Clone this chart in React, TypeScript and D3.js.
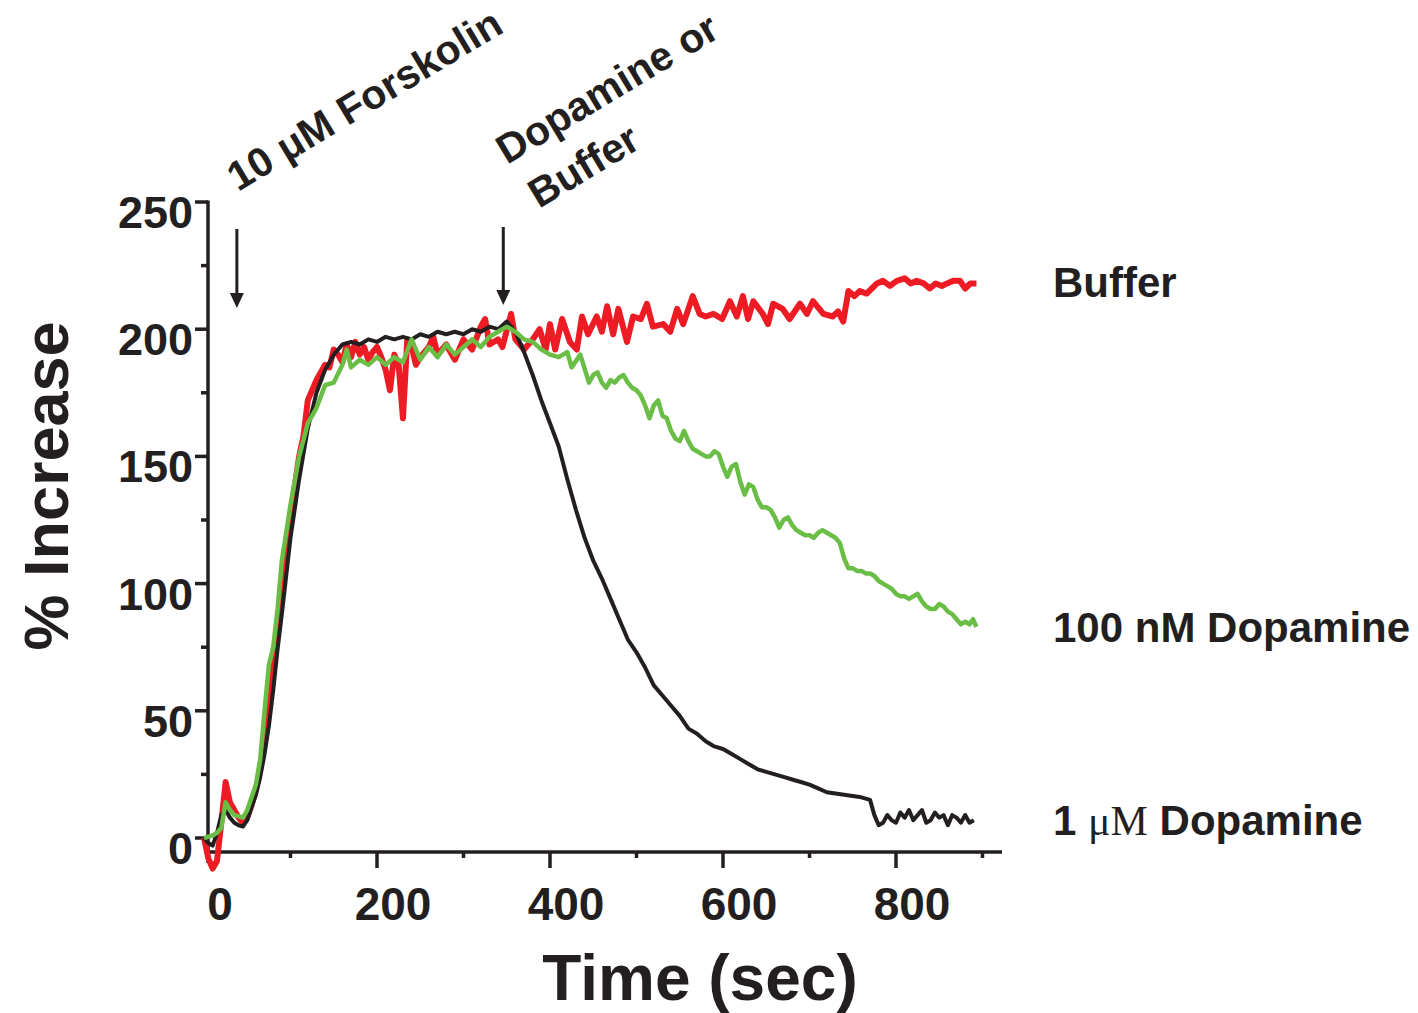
import React from "react";
import * as d3 from "d3";

// ---- Data: [time (sec), % increase] ----
const buffer: [number, number][] = [
  [0, 0], [5, -8], [10, -12], [15, -9], [20, 6], [25, 22], [30, 14], [35, 11], [40, 8], [45, 6],
  [50, 8], [55, 13], [60, 19], [65, 27], [70, 38], [75, 52], [80, 68], [85, 82], [90, 97], [95, 112],
  [100, 127], [110, 150], [115, 158], [120, 172], [125, 176], [130, 180], [135, 183], [140, 186], [145, 185], [150, 192],
  [155, 190], [160, 187], [165, 194], [170, 189], [175, 195], [180, 190], [185, 193], [190, 188], [195, 191], [200, 193],
  [205, 189], [210, 184], [215, 176], [220, 190], [225, 186], [230, 165], [235, 196], [240, 193], [245, 186], [250, 189],
  [260, 193], [265, 197], [270, 190], [280, 194], [290, 188], [300, 196], [310, 192], [320, 201], [325, 204], [330, 194],
  [340, 196], [345, 193], [355, 206], [360, 196], [370, 192], [380, 196], [388, 200], [395, 192], [400, 202], [406, 192],
  [414, 204], [423, 195], [431, 192], [437, 205], [444, 198], [454, 205], [460, 199], [466, 209], [473, 198], [479, 208],
  [489, 195], [496, 205], [505, 204], [512, 210], [519, 201], [531, 202], [539, 199], [547, 208], [554, 202], [565, 213],
  [573, 206], [580, 205], [589, 206], [599, 204], [608, 211], [616, 205], [623, 213], [629, 204], [635, 211], [646, 206],
  [652, 202], [658, 210], [669, 208], [677, 204], [689, 210], [697, 206], [704, 211], [716, 206], [727, 205], [733, 207],
  [739, 203], [745, 215], [752, 213], [758, 215], [766, 214], [772, 216], [778, 218], [785, 219], [793, 217], [801, 219],
  [810, 220], [817, 218], [824, 219], [832, 218], [839, 216], [846, 218], [853, 217], [859, 218], [866, 219], [874, 219],
  [880, 216], [886, 218], [893, 218],
];

const dopamine100nM: [number, number][] = [
  [0, 0], [5, 0.5], [10, 1], [15, 2], [20, 4], [25, 14], [30, 11], [35, 9], [40, 8.5], [45, 8],
  [50, 11], [55, 16], [60, 21], [65, 31], [70, 50], [75, 68], [80, 75], [85, 90], [90, 109], [95, 120],
  [100, 131], [110, 150], [120, 163], [130, 169], [140, 178], [150, 179], [160, 186], [165, 192], [170, 185], [180, 188],
  [190, 186], [200, 189], [210, 186], [220, 189], [230, 187], [240, 196], [250, 188], [260, 193], [270, 189], [280, 194],
  [290, 190], [300, 193], [310, 196], [320, 193], [330, 197], [340, 199], [350, 201], [360, 199], [370, 196], [380, 195],
  [390, 192], [400, 190], [410, 189], [420, 191], [425, 185], [435, 190], [445, 179], [450, 182], [455, 183], [460, 179],
  [465, 177], [470, 180], [475, 179], [480, 181], [485, 182], [490, 179], [495, 177], [500, 176], [505, 174], [510, 170],
  [515, 165], [520, 170], [525, 172], [530, 166], [535, 165], [540, 160], [545, 157], [550, 156], [555, 160], [560, 156],
  [565, 153], [570, 152], [575, 151], [580, 150], [585, 150], [590, 152], [595, 151], [600, 146], [605, 142], [610, 146],
  [615, 147], [620, 140], [625, 135], [630, 139], [635, 138], [640, 133], [645, 130], [650, 130], [655, 129], [660, 126],
  [665, 122], [670, 125], [675, 126], [680, 123], [685, 121], [690, 120], [695, 119], [700, 119], [705, 118], [710, 120],
  [715, 121], [720, 120], [725, 119], [730, 118], [735, 116], [740, 110], [745, 106], [750, 106], [755, 105], [760, 105],
  [765, 104], [770, 104], [775, 103], [780, 101], [785, 100], [790, 99], [795, 98], [800, 96], [805, 95], [810, 95],
  [815, 94], [820, 95], [825, 96], [830, 93], [835, 91], [840, 90], [845, 90], [850, 92], [855, 91], [860, 89],
  [865, 88], [870, 86], [875, 84], [880, 85], [885, 84], [889, 86], [893, 83],
];

const dopamine1uM: [number, number][] = [
  [0, 0], [5, -2], [10, -3], [15, 2], [20, 9], [25, 11], [30, 8], [35, 6], [40, 5], [45, 4.5],
  [50, 7], [55, 12], [60, 17], [65, 24], [70, 33], [75, 44], [80, 58], [85, 74], [90, 88], [95, 103],
  [100, 118], [110, 141], [120, 161], [130, 175], [140, 184], [150, 190], [160, 194], [170, 195], [180, 194], [190, 196],
  [200, 195], [210, 197], [220, 196], [230, 197], [240, 196], [250, 198], [260, 197], [270, 199], [280, 198], [290, 199],
  [300, 198], [310, 200], [320, 199], [330, 201], [340, 200], [350, 203], [360, 199], [370, 191], [380, 182], [390, 172],
  [400, 163], [410, 154], [420, 141], [430, 129], [440, 118], [450, 109], [460, 102], [470, 94], [480, 86], [490, 78],
  [500, 73], [510, 67], [520, 60], [530, 56], [540, 52], [550, 48], [560, 43], [570, 41], [580, 38], [590, 36],
  [600, 35], [610, 33], [620, 31], [630, 29], [640, 27], [650, 26], [660, 25], [670, 24], [680, 23], [690, 22],
  [700, 21], [710, 19.5], [720, 18], [730, 17.5], [740, 17], [750, 16.5], [760, 16], [770, 15], [775, 9], [780, 5],
  [785, 6], [790, 9], [795, 7], [800, 6], [805, 10], [810, 8], [815, 11], [820, 7], [825, 9], [830, 11],
  [835, 6], [840, 7], [845, 10], [850, 8], [855, 9], [860, 5], [865, 9], [870, 8], [875, 6], [880, 9],
  [885, 6], [890, 7],
];

const xTickLabels = [0, 200, 400, 600, 800];
const xMinorTicks = [100, 300, 500, 700, 900];
const yTickLabels = [0, 50, 100, 150, 200, 250];
const yMinorTicks = [25, 75, 125, 175, 225];
const arrowTimes = [38, 346];

const FONT = "'Liberation Sans', Arial, Helvetica, sans-serif";
const SERIF = "'Liberation Serif', 'Times New Roman', serif";

export default function App() {
  const x = d3.scaleLinear().domain([0, 900]).range([204, 982.5]);
  const y = d3.scaleLinear().domain([0, 250]).range([838, 202]);
  const line = d3
    .line<[number, number]>()
    .x((d) => x(d[0]))
    .y((d) => y(d[1]))
    .curve(d3.curveLinear);

  const axisX0 = 208;
  const axisY = 852;
  const ink = "#231f20";

  return (
    <svg width={1418} height={1013} style={{ position: "absolute", left: 0, top: 0, background: "#fff" }}>
      <rect width={1418} height={1013} fill="#fff" />
      {/* Y axis */}
      <line x1={axisX0} x2={axisX0} y1={y(250) - 1.5} y2={863} stroke={ink} strokeWidth={3.5} />
      {yTickLabels.map((v) => (
        <g key={"yt" + v}>
          <line x1={195} x2={axisX0} y1={y(v)} y2={y(v)} stroke={ink} strokeWidth={3.5} />
          <text x={193} y={y(v) + 26} textAnchor="end" fontFamily={FONT} fontWeight="bold" fontSize={45} fill={ink}>
            {v}
          </text>
        </g>
      ))}
      {yMinorTicks.map((v) => (
        <line key={"ym" + v} x1={201} x2={axisX0} y1={y(v)} y2={y(v)} stroke={ink} strokeWidth={3.5} />
      ))}
      {/* X axis */}
      <line x1={axisX0 - 1.5} x2={1002} y1={axisY} y2={axisY} stroke={ink} strokeWidth={3.5} />
      {xTickLabels.map((v) => (
        <g key={"xt" + v}>
          {v > 0 && <line x1={x(v)} x2={x(v)} y1={axisY} y2={868} stroke={ink} strokeWidth={3.5} />}
          <text x={x(v) + 16} y={920} textAnchor="middle" fontFamily={FONT} fontWeight="bold" fontSize={46} fill={ink}>
            {v}
          </text>
        </g>
      ))}
      {xMinorTicks.map((v) => (
        <line key={"xm" + v} x1={x(v)} x2={x(v)} y1={axisY} y2={858} stroke={ink} strokeWidth={3.5} />
      ))}
      {/* Axis titles */}
      <text
        transform={`translate(68, 486) rotate(-90)`}
        textAnchor="middle"
        fontFamily={FONT}
        fontWeight="bold"
        fontSize={63}
        fill={ink}
      >
        % Increase
      </text>
      <text x={700} y={1000} textAnchor="middle" fontFamily={FONT} fontWeight="bold" fontSize={64} fill={ink}>
        Time (sec)
      </text>

      {/* Data lines */}
      <path d={line(buffer) ?? ""} fill="none" stroke="#ed1c24" strokeWidth={6} strokeLinejoin="round" />
      <path d={line(dopamine1uM) ?? ""} fill="none" stroke={ink} strokeWidth={4} strokeLinejoin="round" />
      <path d={line(dopamine100nM) ?? ""} fill="none" stroke="#6abd45" strokeWidth={4.5} strokeLinejoin="round" />

      {/* Arrows */}
      {arrowTimes.map((t, i) => {
        const ax = x(t);
        const top = i === 0 ? 229 : 227;
        const tip = i === 0 ? 308 : 305;
        return (
          <g key={"ar" + i}>
            <line x1={ax} x2={ax} y1={top} y2={tip - 12} stroke={ink} strokeWidth={3} />
            <path d={`M${ax - 7},${tip - 15} L${ax + 7},${tip - 15} L${ax},${tip} Z`} fill={ink} />
          </g>
        );
      })}

      {/* Annotations */}
      <text transform="translate(238, 192) rotate(-31)" fontFamily={FONT} fontWeight="bold" fontSize={41} fill={ink}>
        10 μM Forskolin
      </text>
      <text transform="translate(507, 165) rotate(-31)" fontFamily={FONT} fontWeight="bold" fontSize={41} fill={ink}>
        Dopamine or
      </text>
      <text transform="translate(539, 209) rotate(-31)" fontFamily={FONT} fontWeight="bold" fontSize={41} fill={ink}>
        Buffer
      </text>

      {/* Series labels */}
      <text x={1053} y={297} fontFamily={FONT} fontWeight="bold" fontSize={42} fill={ink}>
        Buffer
      </text>
      <text x={1053} y={642} fontFamily={FONT} fontWeight="bold" fontSize={42} fill={ink}>
        100 nM Dopamine
      </text>
      <text x={1053} y={835} fontFamily={FONT} fontWeight="bold" fontSize={42} fill={ink}>
        1{" "}
        <tspan fontFamily={SERIF} fontWeight="normal">
          μM
        </tspan>{" "}
        Dopamine
      </text>
    </svg>
  );
}
